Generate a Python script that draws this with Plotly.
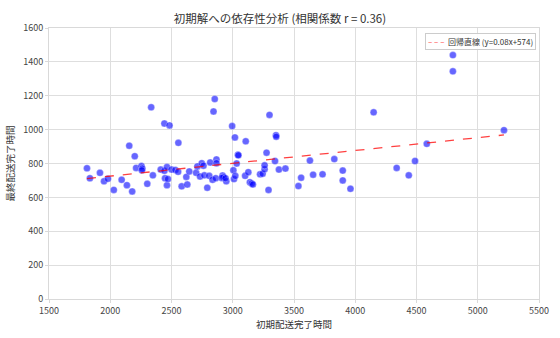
import numpy as np
import plotly.graph_objects as go

# Initial completion time vs. final completion time per delivery run
initial_time = [
    1810, 1834, 1916, 1949, 1981, 2029, 2093, 2136, 2155, 2179,
    2200, 2211, 2255, 2262, 2258, 2302, 2334, 2348, 2412, 2442,
    2442, 2447, 2463, 2463, 2471, 2484, 2500, 2532, 2556, 2554,
    2583, 2621, 2629, 2645, 2701, 2711, 2733, 2747, 2761, 2768,
    2792, 2808, 2816, 2835, 2843, 2853, 2867, 2867, 2861, 2917,
    2925, 2910, 2947, 2941, 2995, 3005, 3010, 3021, 3018, 3032,
    3042, 3046, 3106, 3101, 3127, 3140, 3155, 3165, 3223, 3244,
    3260, 3260, 3276, 3292, 3300, 3345, 3353, 3355, 3377, 3430,
    3536, 3558, 3630, 3656, 3733, 3829, 3898, 3898, 3961, 4150,
    4338, 4437, 4488, 4584, 4797, 4797, 5214,
]
final_time = [
    772, 713, 745, 695, 710, 644, 704, 672, 905, 635,
    843, 774, 785, 770, 760, 680, 1132, 730, 764, 1036,
    757, 713, 779, 672, 708, 1025, 764, 762, 922, 751,
    665, 721, 676, 753, 745, 783, 723, 802, 787, 730,
    657, 727, 806, 704, 1107, 1181, 824, 802, 713, 729,
    720, 715, 695, 713, 1021, 760, 708, 727, 954, 800,
    852, 848, 931, 727, 749, 690, 682, 676, 736, 740,
    766, 789, 864, 644, 1087, 815, 967, 958, 764, 770,
    667, 716, 817, 734, 736, 826, 758, 700, 651, 1102,
    774, 730, 815, 916, 1440, 1344, 997,
]

# Regression line coefficients and correlation
slope = 0.0757
intercept = 574
corr_r = 0.36

x_arr = np.array(initial_time)
line_x = np.array([x_arr.min(), x_arr.max()])
line_y = slope * line_x + intercept

font_family = "Noto Sans CJK JP, Noto Sans, sans-serif"
line_label = f"回帰直線 (y={slope:.2f}x+{intercept:.0f})"

fig = go.Figure()
fig.add_trace(go.Scatter(
    x=initial_time, y=final_time, mode="markers",
    marker=dict(size=7, color="rgba(0,0,255,0.6)",
                line=dict(color="rgba(255,255,255,0.6)", width=0.5)),
    showlegend=False,
))
fig.add_trace(go.Scatter(
    x=line_x, y=line_y, mode="lines",
    line=dict(color="rgba(255,0,0,0.75)", width=1.3, dash="dash"),
    name=line_label, showlegend=False,
))

# Compact legend box in the upper-right corner
fig.add_annotation(
    xref="paper", yref="paper", x=1, y=1,
    xanchor="right", yanchor="top", xshift=-3, yshift=-5,
    text=f'<span style="color:#ff3b3b">– – –</span>  {line_label}',
    showarrow=False, align="left",
    font=dict(size=8, color="#333", family=font_family),
    bgcolor="rgba(255,255,255,0.9)", bordercolor="#cccccc",
    borderwidth=1, borderpad=2,
)

axis_common = dict(
    showgrid=True, gridcolor="#dedede", gridwidth=1,
    showline=True, linecolor="#d9d9d9", linewidth=1, mirror=True,
    ticks="outside", ticklen=3, tickcolor="#d9d9d9",
    tickfont=dict(size=9, color="#444", family=font_family),
    zeroline=False,
)

fig.update_layout(
    width=560, height=338,
    margin=dict(l=48, r=11, t=28, b=26),
    paper_bgcolor="white", plot_bgcolor="white",
    font=dict(family=font_family, color="#333"),
    title=dict(text=f"初期解への依存性分析 (相関係数 r = {corr_r:.2f})",
               x=0.5, xanchor="center", y=0.945, yanchor="middle",
               font=dict(size=11.5, color="#333", family=font_family)),
    xaxis=dict(axis_common, range=[1500, 5500], dtick=500,
               title=dict(text="初期配送完了時間", standoff=4,
                          font=dict(size=9.5, color="#333"))),
    yaxis=dict(axis_common, range=[0, 1600], dtick=200,
               title=dict(text="最終配送完了時間", standoff=6,
                          font=dict(size=9.5, color="#333"))),
    showlegend=False,
)

fig.write_html("out.html")
